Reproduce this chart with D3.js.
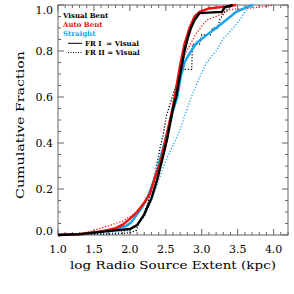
<!DOCTYPE html>
<html>
<head>
<meta charset="utf-8">
<script src="https://cdn.jsdelivr.net/npm/d3@7"></script>
<style>
  body { margin: 0; background: #fff; }
  svg { display: block; }
</style>
</head>
<body>
<div id="chart"></div>
<script>
// cumulative distributions, [log extent, fraction]
var visualBentFR1 = [[1.0,0],[1.3,0.004],[1.7,0.017],[2.0,0.026],[2.1,0.043],[2.2,0.09],[2.3,0.16],[2.38,0.24],[2.46,0.34],[2.52,0.42],[2.6,0.55],[2.65,0.61],[2.7,0.7],[2.76,0.8],[2.8,0.85],[2.85,0.9],[2.9,0.935],[2.97,0.965],[3.28,0.97],[3.32,0.99],[3.43,1.0]];
var visualBentFR2 = [[1.0,0],[1.8,0.005],[2.0,0.01],[2.09,0.02],[2.12,0.05],[2.17,0.07],[2.2,0.1],[2.24,0.13],[2.3,0.2],[2.36,0.28],[2.42,0.38],[2.46,0.43],[2.51,0.52],[2.56,0.57],[2.62,0.63],[2.68,0.68],[2.74,0.72],[2.86,0.72],[2.87,0.83],[2.97,0.83],[3.0,0.87],[3.12,0.87],[3.15,0.9],[3.22,0.9],[3.25,0.935],[3.32,0.97],[3.39,0.99],[3.45,1.0]];
var autoBentFR1 = [[1.0,0],[1.3,0.003],[1.6,0.015],[1.8,0.03],[1.9,0.045],[2.0,0.07],[2.1,0.1],[2.2,0.14],[2.28,0.18],[2.35,0.25],[2.42,0.31],[2.5,0.42],[2.6,0.56],[2.7,0.74],[2.76,0.83],[2.83,0.9],[2.9,0.95],[2.97,0.97],[3.1,0.985],[3.3,0.992],[3.48,1.0]];
var autoBentFR2 = [[1.0,0],[1.3,0.005],[1.5,0.02],[1.7,0.04],[1.9,0.06],[2.05,0.09],[2.15,0.12],[2.25,0.17],[2.32,0.22],[2.4,0.3],[2.5,0.42],[2.6,0.55],[2.65,0.62],[2.7,0.73],[2.79,0.8],[2.93,0.88],[3.07,0.935],[3.25,0.957],[3.39,0.98],[3.6,0.985],[3.8,0.99],[4.0,1.0]];
var straightFR1 = [[1.0,0],[1.4,0.005],[1.6,0.015],[1.8,0.025],[1.95,0.04],[2.02,0.055],[2.1,0.09],[2.17,0.12],[2.25,0.167],[2.32,0.225],[2.37,0.27],[2.42,0.33],[2.5,0.42],[2.6,0.54],[2.66,0.6],[2.71,0.69],[2.76,0.75],[2.83,0.79],[2.93,0.835],[3.07,0.87],[3.2,0.9],[3.34,0.935],[3.48,0.97],[3.62,0.99],[3.71,1.0]];
var straightFR2 = [[1.0,0],[1.5,0.005],[1.8,0.01],[2.0,0.02],[2.1,0.04],[2.2,0.08],[2.3,0.15],[2.38,0.22],[2.45,0.28],[2.51,0.33],[2.6,0.39],[2.69,0.45],[2.83,0.58],[2.96,0.68],[3.07,0.75],[3.2,0.8],[3.29,0.85],[3.41,0.89],[3.53,0.935],[3.6,0.97],[3.67,0.995],[3.72,1.0]];

var xTicks = [1.0, 1.5, 2.0, 2.5, 3.0, 3.5, 4.0];
var yTicks = [0.0, 0.2, 0.4, 0.6, 0.8, 1.0];
var legendNames = ["Visual Bent", "Auto Bent", "Straight"];
var lineNames = ["FR I  = Visual", "FR II = Visual"];

var red = "#f01010", blue = "#18a4ec";

var svg = d3.select("#chart").append("svg")
  .attr("width", 294)
  .attr("height", 294);

var x = d3.scaleLinear().domain([1.0, 4.2]).range([58, 288]);
var y = d3.scaleLinear().domain([0, 1]).range([235, 5]);

var axisColor = "#666";

// box
svg.append("rect")
  .attr("x", 58).attr("y", 5)
  .attr("width", 230).attr("height", 230)
  .attr("fill", "none")
  .attr("stroke", axisColor)
  .attr("stroke-width", 1);

// inward ticks on all sides
var xMinor = d3.range(1.0, 4.21, 0.1);
var yMinor = d3.range(0, 1.001, 0.05);
function isMajor(v, step) {
  return Math.abs(v / step - Math.round(v / step)) < 1e-6;
}
var ticks = svg.append("g").attr("stroke", axisColor).attr("stroke-width", 1);
xMinor.forEach(function (v) {
  var len = isMajor(v, 0.5) ? 6 : 3;
  ticks.append("line").attr("x1", x(v)).attr("x2", x(v)).attr("y1", 235).attr("y2", 235 - len);
  ticks.append("line").attr("x1", x(v)).attr("x2", x(v)).attr("y1", 5).attr("y2", 5 + len);
});
yMinor.forEach(function (v) {
  var len = isMajor(v, 0.2) ? 6 : 3;
  ticks.append("line").attr("y1", y(v)).attr("y2", y(v)).attr("x1", 58).attr("x2", 58 + len);
  ticks.append("line").attr("y1", y(v)).attr("y2", y(v)).attr("x1", 288).attr("x2", 288 - len);
});

var font = "DejaVu Serif";

svg.selectAll(".xlab").data(xTicks).enter().append("text")
  .attr("x", function (d) { return x(d); })
  .attr("y", 253)
  .attr("text-anchor", "middle")
  .style("font-family", font)
  .style("font-size", "11px")
  .text(function (d) { return d.toFixed(1); });

svg.selectAll(".ylab").data(yTicks).enter().append("text")
  .attr("x", 53)
  .attr("y", function (d) { return Math.min(Math.max(y(d), 10), 231) + 4; })
  .attr("text-anchor", "end")
  .style("font-family", font)
  .style("font-size", "11px")
  .text(function (d) { return d.toFixed(1); });

svg.append("text")
  .attr("x", 173).attr("y", 269)
  .attr("text-anchor", "middle")
  .attr("textLength", 206)
  .attr("lengthAdjust", "spacingAndGlyphs")
  .style("font-family", font)
  .style("font-size", "11px")
  .text("log Radio Source Extent (kpc)");

svg.append("text")
  .attr("transform", "translate(24,125) rotate(-90)")
  .attr("text-anchor", "middle")
  .attr("textLength", 148)
  .attr("lengthAdjust", "spacingAndGlyphs")
  .style("font-family", font)
  .style("font-size", "11px")
  .text("Cumulative Fraction");

// curves
var line = d3.line()
  .x(function (d) { return x(d[0]); })
  .y(function (d) { return y(d[1]); });

var series = [
  { data: straightFR2, color: blue, dotted: true },
  { data: autoBentFR2, color: red, dotted: true },
  { data: visualBentFR2, color: "#000", dotted: true },
  { data: straightFR1, color: blue, dotted: false },
  { data: autoBentFR1, color: red, dotted: false },
  { data: visualBentFR1, color: "#000", dotted: false }
];

svg.append("g").selectAll("path").data(series).enter().append("path")
  .attr("d", function (d) { return line(d.data); })
  .attr("fill", "none")
  .attr("stroke", function (d) { return d.color; })
  .attr("stroke-width", function (d) { return d.dotted ? 1.3 : 2.4; })
  .attr("stroke-dasharray", function (d) { return d.dotted ? "1.2,1.8" : null; });

// legend
var legendColors = ["#000", red, blue];
svg.selectAll(".leg").data(legendNames).enter().append("text")
  .attr("x", 63)
  .attr("y", function (d, i) { return 18 + i * 9.2; })
  .attr("fill", function (d, i) { return legendColors[i]; })
  .style("font-family", font)
  .style("font-size", "7px")
  .style("font-weight", "bold")
  .text(function (d) { return d; });

lineNames.forEach(function (name, i) {
  var ly = 43.3 + i * 9.3;
  svg.append("line")
    .attr("x1", 68).attr("x2", 82)
    .attr("y1", ly).attr("y2", ly)
    .attr("stroke", "#000")
    .attr("stroke-width", 1)
    .attr("stroke-dasharray", i === 1 ? "1,1.5" : null);
  svg.append("text")
    .attr("x", 85).attr("y", ly + 2.5)
    .style("font-family", font)
    .style("font-size", "7px")
    .style("font-weight", "bold")
    .style("white-space", "pre")
    .attr("xml:space", "preserve")
    .text(name);
});
</script>
</body>
</html>
